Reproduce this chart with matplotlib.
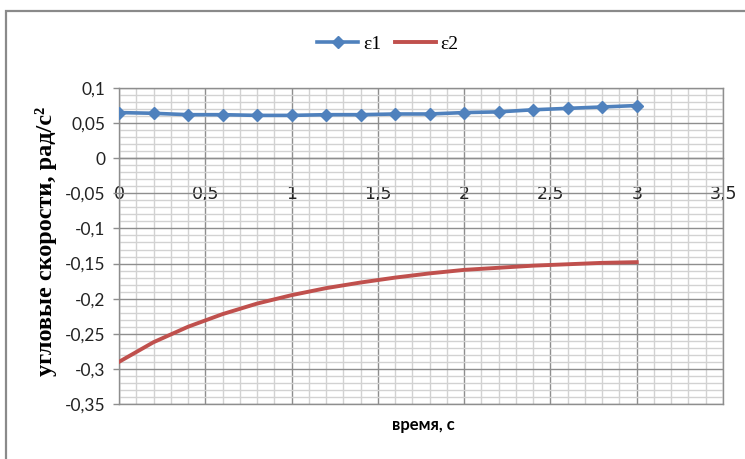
import matplotlib
matplotlib.use("Agg")
import matplotlib.pyplot as plt
from matplotlib.ticker import MultipleLocator
from matplotlib.patches import Rectangle

# time, s
t = [0.0, 0.2, 0.4, 0.6, 0.8, 1.0, 1.2, 1.4, 1.6, 1.8, 2.0, 2.2, 2.4, 2.6, 2.8, 3.0]
# angular accelerations
eps1 = [0.065, 0.064, 0.062, 0.062, 0.061, 0.061, 0.062, 0.062,
        0.063, 0.063, 0.065, 0.066, 0.069, 0.071, 0.073, 0.075]
eps2 = [-0.290, -0.262, -0.240, -0.222, -0.207, -0.195, -0.185, -0.177,
        -0.170, -0.164, -0.159, -0.156, -0.153, -0.151, -0.149, -0.148]

x_ticks = [0, 0.5, 1.0, 1.5, 2.0, 2.5, 3.0, 3.5]
x_tick_labels = ["0", "0,5", "1", "1,5", "2", "2,5", "3", "3,5"]
y_ticks = [0.1, 0.05, 0.0, -0.05, -0.1, -0.15, -0.2, -0.25, -0.3, -0.35]
y_tick_labels = ["0,1", "0,05", "0", "-0,05", "-0,1", "-0,15", "-0,2", "-0,25", "-0,3", "-0,35"]

W, H = 745, 459
fig = plt.figure(figsize=(W / 100, H / 100), dpi=100)

# chart-area border
fig.patches.append(Rectangle((6.5 / W, -0.1), 2.0, 1 - 10.5 / H + 0.1,
                             transform=fig.transFigure, fill=False,
                             edgecolor="#8a8a8a", lw=1.6))

left, right, top, bottom = 119, 723, 88, 404
ax = fig.add_axes([left / W, 1 - bottom / H, (right - left) / W, (bottom - top) / H])
ax.set_xlim(0, 3.5)
ax.set_ylim(-0.35, 0.1)

major_c = "#8e8e8e"
minor_c = "#d2d2d2"
tick_font = ["Lato", "DejaVu Sans"]
ax.set_xticks(x_ticks, labels=x_tick_labels)
ax.set_yticks(y_ticks, labels=y_tick_labels)
ax.xaxis.set_minor_locator(MultipleLocator(0.1))
ax.yaxis.set_minor_locator(MultipleLocator(0.01))
ax.set_axisbelow(True)
ax.grid(which="minor", color=minor_c, lw=1.0)
ax.grid(which="major", color=major_c, lw=1.0)
ax.tick_params(which="minor", length=0)
ax.tick_params(axis="x", which="major", length=0, pad=19,
               labelsize=12.5, labelcolor="#222222")
ax.tick_params(axis="y", which="major", length=4, width=1, color=major_c,
               pad=6, labelsize=12.5, labelcolor="#222222")
for lab in ax.get_yticklabels() + ax.get_xticklabels():
    lab.set_family(tick_font)
for s in ax.spines.values():
    s.set_color(major_c)
    s.set_linewidth(1.0)

# horizontal axis crosses the vertical one at zero; keep the frame closed below
ax.spines["bottom"].set_position(("data", 0))
ax.axhline(-0.35, color=major_c, lw=1.0, clip_on=False, zorder=2.5)

blue = "#4f81bd"
red = "#c0504d"
ax.plot(t, eps1, color=blue, lw=2.6, marker="D", ms=6.5, mec=blue, mfc=blue,
        label="ε1", zorder=3)
ax.plot(t, eps2, color=red, lw=2.8, label="ε2", zorder=3)

fig.text(46 / W, 1 - 241 / H, "угловые скорости, рад/с²", rotation=90,
         ha="center", va="center", fontsize=17.5, fontweight="bold",
         family="Liberation Serif")
fig.text(423 / W, 1 - 425 / H, "время, с", ha="center", va="center",
         fontsize=12, fontweight="bold", family=["Lato", "Noto Sans"])

fig.legend(loc="center", bbox_to_anchor=(388 / W, 1 - 44 / H), ncol=2,
           frameon=False, prop={"family": "Liberation Serif", "size": 14},
           handlelength=2.1, handletextpad=0.25, columnspacing=0.7)

fig.savefig("out.png", dpi=100)
